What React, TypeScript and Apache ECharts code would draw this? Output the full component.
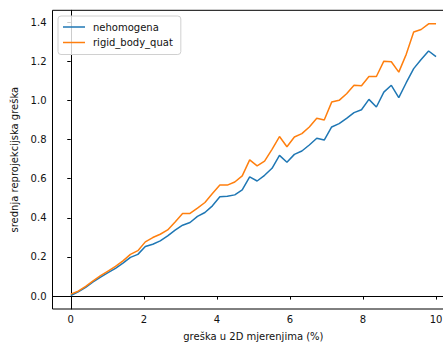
import React, { useEffect, useRef } from "react";
import * as echarts from "echarts";

const xValues = [
  0, 0.204, 0.408, 0.612, 0.816, 1.02, 1.224, 1.429, 1.633, 1.837,
  2.041, 2.245, 2.449, 2.653, 2.857, 3.061, 3.265, 3.469, 3.673, 3.878,
  4.082, 4.286, 4.49, 4.694, 4.898, 5.102, 5.306, 5.51, 5.714, 5.918,
  6.122, 6.327, 6.531, 6.735, 6.939, 7.143, 7.347, 7.551, 7.755, 7.959,
  8.163, 8.367, 8.571, 8.776, 8.98, 9.184, 9.388, 9.592, 9.796, 10.0,
];

const nehomogena = [
  0.003, 0.022, 0.045, 0.072, 0.097, 0.12, 0.142, 0.168, 0.198, 0.213,
  0.253, 0.265, 0.282, 0.308, 0.337, 0.362, 0.376, 0.407, 0.427, 0.461,
  0.507, 0.51, 0.517, 0.542, 0.609, 0.588, 0.617, 0.653, 0.719, 0.684,
  0.724, 0.741, 0.772, 0.806, 0.797, 0.864, 0.881, 0.908, 0.937, 0.952,
  1.005, 0.966, 1.042, 1.077, 1.014, 1.09, 1.162, 1.209, 1.252, 1.223,
];

const rigidBodyQuat = [
  0.01, 0.025, 0.05, 0.078, 0.104, 0.128, 0.152, 0.18, 0.213, 0.232,
  0.277, 0.299, 0.316, 0.338, 0.379, 0.422, 0.422, 0.449, 0.478, 0.524,
  0.567, 0.567, 0.583, 0.614, 0.696, 0.665, 0.689, 0.75, 0.815, 0.763,
  0.813, 0.83, 0.864, 0.908, 0.9, 0.991, 1.0, 1.034, 1.077, 1.075,
  1.122, 1.122, 1.2, 1.197, 1.144, 1.235, 1.349, 1.362, 1.391, 1.391,
];

const xTicks = [0, 2, 4, 6, 8, 10];
const yTicks = [0, 0.2, 0.4, 0.6, 0.8, 1.0, 1.2, 1.4];

const seriesNames = ["nehomogena", "rigid_body_quat"];
const seriesColors = ["#1f77b4", "#ff7f0e"];

const FONT = "DejaVu Sans";

export default function App() {
  const ref = useRef<HTMLDivElement>(null);

  useEffect(() => {
    if (!ref.current) return;
    const chart = echarts.init(ref.current, null, { renderer: "svg" });
    const toPairs = (ys: number[]) => ys.map((y, i) => [xValues[i], y]);
    chart.setOption({
      animation: false,
      textStyle: { fontFamily: FONT },
      grid: {
        left: 52.5,
        top: 10.3,
        width: 401.8,
        height: 299.7,
        show: true,
        borderColor: "#000",
        borderWidth: 1,
        backgroundColor: "transparent",
      },
      legend: {
        orient: "vertical",
        left: 58,
        top: 16,
        padding: [6, 8, 7, 5],
        icon: "rect",
        itemWidth: 22,
        itemHeight: 1.5,
        itemGap: 5.5,
        backgroundColor: "rgba(255,255,255,0.8)",
        borderColor: "#d0d0d0",
        borderWidth: 1,
        borderRadius: 3,
        data: seriesNames,
        textStyle: {
          fontFamily: FONT,
          fontSize: 10,
          color: "#111",
          padding: [0, 0, 0, 3],
        },
      },
      xAxis: {
        type: "value",
        min: -0.5,
        max: 10.5,
        name: "greška u 2D mjerenjima (%)",
        nameLocation: "middle",
        nameGap: 22,
        nameTextStyle: { fontFamily: FONT, fontSize: 10, color: "#111" },
        axisLine: { show: true, lineStyle: { color: "#000", width: 1 } },
        axisTick: {
          show: true,
          length: 3.5,
          lineStyle: { color: "#000" },
          customValues: xTicks,
        },
        axisLabel: {
          fontFamily: FONT,
          fontSize: 10,
          color: "#111",
          margin: 5,
          customValues: xTicks,
          formatter: (v: number) => String(v),
        },
        splitLine: { show: false },
      },
      yAxis: {
        type: "value",
        min: -0.066,
        max: 1.46,
        name: "srednja reprojekcijska greška",
        nameLocation: "middle",
        nameGap: 31,
        nameTextStyle: { fontFamily: FONT, fontSize: 10, color: "#111" },
        axisLine: { show: true, lineStyle: { color: "#000", width: 1 } },
        axisTick: {
          show: true,
          length: 3.5,
          lineStyle: { color: "#000" },
          customValues: yTicks,
        },
        axisLabel: {
          fontFamily: FONT,
          fontSize: 10,
          color: "#111",
          margin: 6,
          customValues: yTicks,
          formatter: (v: number) => v.toFixed(1),
        },
        splitLine: { show: false },
      },
      series: [
        {
          name: seriesNames[0],
          type: "line",
          symbol: "none",
          data: toPairs(nehomogena),
          lineStyle: { width: 1.5, color: seriesColors[0] },
          itemStyle: { color: seriesColors[0] },
        },
        {
          name: seriesNames[1],
          type: "line",
          symbol: "none",
          data: toPairs(rigidBodyQuat),
          lineStyle: { width: 1.5, color: seriesColors[1] },
          itemStyle: { color: seriesColors[1] },
        },
      ],
    });
    return () => chart.dispose();
  }, []);

  return (
    <div
      style={{
        position: "fixed",
        left: 0,
        top: 0,
        width: 443,
        height: 346,
        overflow: "hidden",
        background: "#fff",
      }}
    >
      <div ref={ref} style={{ width: 461, height: 346 }} />
    </div>
  );
}
